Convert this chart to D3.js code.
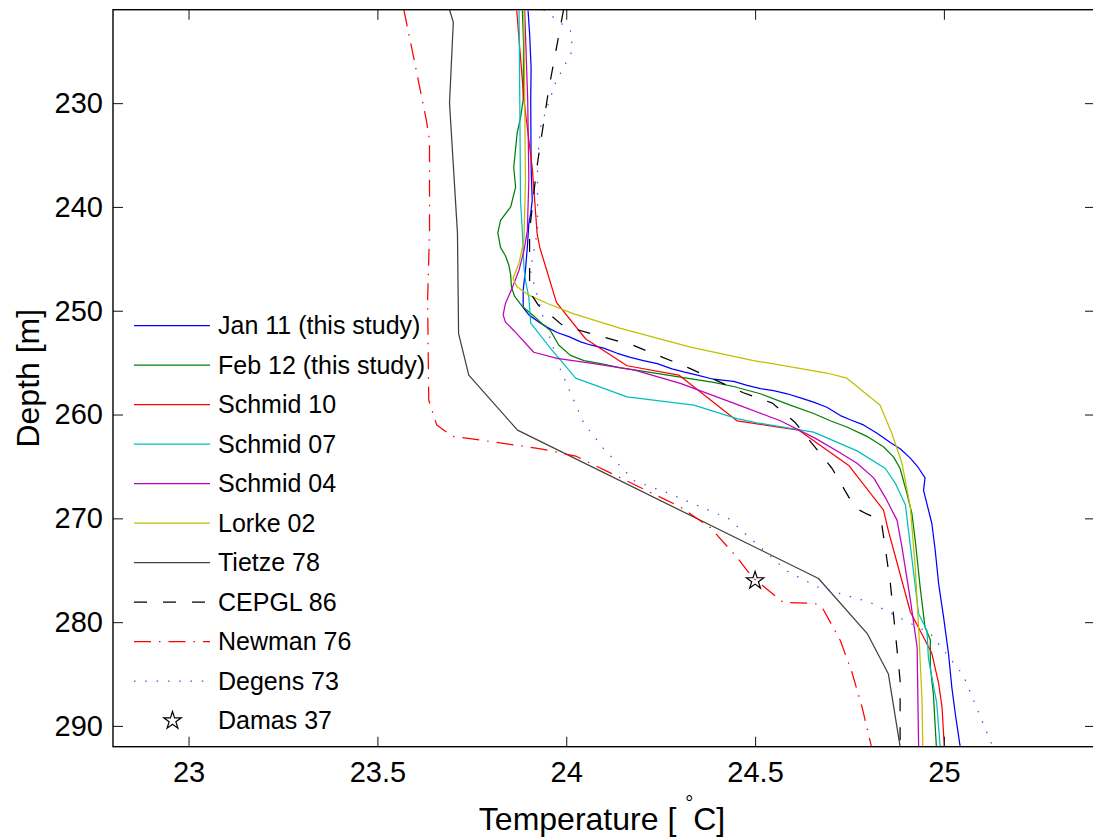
<!DOCTYPE html>
<html>
<head>
<meta charset="utf-8">
<script src="https://cdn.jsdelivr.net/npm/d3@7"></script>
<style>
  html, body { margin: 0; padding: 0; background: #fff; }
  svg { display: block; font-family: "Liberation Sans", Arial, Helvetica, sans-serif; }
</style>
</head>
<body>
<svg id="chart" width="1093" height="840"></svg>
<script>
// Temperature profiles, each point is [temperature °C, depth m]
const jan11 = [[23.899,221.1],[23.903,223.3],[23.907,226.6],[23.906,229.7],[23.907,236.2],[23.910,239.4],[23.906,240.6],[23.901,241.6],[23.897,243.9],[23.892,246.1],[23.886,248.0],[23.886,249.7],[23.901,250.4],[23.928,251.1],[23.950,251.6],[23.976,252.1],[24.007,252.5],[24.038,253.0],[24.064,253.3],[24.099,253.6],[24.135,254.1],[24.170,254.5],[24.204,254.8],[24.241,255.1],[24.280,255.6],[24.311,255.9],[24.347,256.2],[24.390,256.6],[24.443,256.8],[24.479,257.2],[24.514,257.5],[24.549,257.7],[24.585,258.0],[24.620,258.4],[24.655,258.8],[24.690,259.3],[24.726,260.1],[24.752,260.5],[24.787,261.0],[24.823,261.8],[24.858,262.7],[24.884,263.3],[24.911,264.2],[24.932,265.1],[24.950,266.1],[24.946,267.3],[24.955,268.6],[24.968,270.5],[24.977,273.1],[24.986,276.3],[24.999,279.5],[25.012,283.0],[25.021,286.3],[25.030,288.8],[25.043,292.0]];
const feb12 = [[23.884,221.1],[23.887,224.3],[23.886,229.7],[23.879,231.4],[23.870,232.9],[23.861,236.2],[23.866,238.1],[23.853,240.0],[23.826,241.3],[23.819,242.5],[23.826,243.9],[23.839,244.7],[23.848,245.6],[23.853,246.6],[23.855,247.7],[23.863,248.6],[23.884,249.6],[23.914,250.5],[23.937,251.3],[23.958,251.9],[23.980,253.3],[24.011,254.3],[24.047,254.8],[24.091,255.1],[24.144,255.5],[24.214,255.9],[24.302,256.4],[24.390,256.9],[24.443,257.3],[24.514,258.0],[24.593,259.1],[24.655,259.9],[24.699,260.6],[24.743,261.2],[24.796,262.1],[24.840,263.1],[24.867,264.1],[24.884,265.2],[24.902,267.6],[24.915,269.5],[24.924,272.1],[24.937,276.6],[24.950,280.5],[24.964,281.7],[24.964,284.3],[24.972,286.9],[24.980,292.0]];
const schmid10 = [[23.869,221.1],[23.888,229.7],[23.910,236.2],[23.923,242.6],[23.930,243.9],[23.974,249.2],[24.051,252.7],[24.161,255.3],[24.298,256.2],[24.452,260.6],[24.615,261.5],[24.748,264.9],[24.840,269.2],[24.853,271.2],[24.911,279.0],[24.968,283.0],[24.986,285.9],[24.995,288.2],[25.001,292.0]];
const schmid07 = [[23.875,221.1],[23.877,229.7],[23.879,239.4],[23.884,242.5],[23.888,245.8],[23.892,247.1],[23.901,248.7],[23.906,251.2],[23.958,253.6],[24.025,256.5],[24.161,258.3],[24.338,259.1],[24.452,260.4],[24.505,260.8],[24.655,261.7],[24.770,263.5],[24.845,265.2],[24.871,266.6],[24.898,268.7],[24.933,279.2],[24.955,280.8],[24.959,283.5],[24.981,287.8],[24.990,292.0]];
const schmid04 = [[23.890,221.1],[23.898,229.7],[23.901,237.4],[23.897,242.3],[23.888,244.2],[23.875,246.1],[23.857,247.8],[23.839,249.3],[23.833,250.4],[23.839,251.1],[23.861,251.9],[23.914,254.0],[23.976,254.6],[24.073,255.1],[24.179,255.7],[24.302,257.0],[24.443,258.9],[24.567,260.6],[24.660,262.3],[24.726,263.7],[24.770,264.7],[24.814,266.1],[24.845,268.0],[24.876,270.2],[24.889,272.8],[24.911,277.8],[24.929,282.4],[24.933,292.0]];
const lorke02 = [[23.888,221.1],[23.892,237.4],[23.888,243.2],[23.875,245.4],[23.859,246.9],[23.870,247.7],[23.901,248.5],[23.950,249.3],[24.020,250.3],[24.144,251.7],[24.329,253.5],[24.496,254.8],[24.690,256.0],[24.743,256.5],[24.831,259.1],[24.862,261.8],[24.889,264.7],[24.911,268.9],[24.924,274.7],[24.933,280.5],[24.942,287.5],[24.944,292.0]];
const tietze78 = [[23.691,221.0],[23.701,222.2],[23.691,230.0],[23.712,242.5],[23.715,252.2],[23.742,256.2],[23.871,261.5],[24.668,275.8],[24.797,281.1],[24.853,285.0],[24.884,292.0]];
const cepgl86 = [[23.993,221.0],[23.953,228.8],[23.921,236.5],[23.903,242.3],[23.903,248.2],[23.927,249.5],[23.958,250.4],[23.990,251.4],[24.064,252.2],[24.175,253.3],[24.324,255.5],[24.469,257.9],[24.546,258.9],[24.607,260.8],[24.704,265.2],[24.765,269.0],[24.797,269.6],[24.834,270.2],[24.858,276.2],[24.884,285.6],[24.884,292.0]];
const newman76 = [[23.570,221.0],[23.596,225.6],[23.630,231.7],[23.638,233.6],[23.638,242.3],[23.633,249.0],[23.636,258.6],[23.657,261.0],[23.699,262.1],[23.800,262.6],[23.932,263.3],[24.025,264.0],[24.302,268.9],[24.382,270.9],[24.453,273.8],[24.493,275.7],[24.575,278.1],[24.659,278.2],[24.678,278.6],[24.726,281.8],[24.757,284.9],[24.784,288.3],[24.808,292.0]];
const degens73 = [[23.940,221.0],[24.011,223.0],[24.017,224.9],[23.972,228.0],[23.932,232.3],[23.924,235.5],[23.924,242.3],[23.905,246.1],[23.937,250.4],[23.985,255.7],[24.046,260.8],[24.099,263.3],[24.181,266.4],[24.265,267.5],[24.429,270.0],[24.496,272.2],[24.585,275.1],[24.665,276.6],[24.805,278.1],[24.884,279.6],[24.964,281.1],[25.051,285.1],[25.120,291.2],[25.130,292.0]];
const damas37 = [[24.5,276.0]];

const seriesNames = ["Jan 11 (this study)","Feb 12 (this study)","Schmid 10","Schmid 07","Schmid 04","Lorke 02","Tietze 78","CEPGL 86","Newman 76","Degens 73","Damas 37"];
const tempTicks = [23, 23.5, 24, 24.5, 25];
const depthTicks = [230, 240, 250, 260, 270, 280, 290];
const tempDomain = [22.8, 25.4];
const depthDomain = [221, 292];

// Line appearance for each profile
const lineStyles = [
  {data: jan11,    color: "#0000ff", dash: null},
  {data: feb12,    color: "#008000", dash: null},
  {data: schmid10, color: "#ff0000", dash: null},
  {data: schmid07, color: "#00bfbf", dash: null},
  {data: schmid04, color: "#bf00bf", dash: null},
  {data: lorke02,  color: "#bfbf00", dash: null},
  {data: tietze78, color: "#404040", dash: null},
  {data: cepgl86,  color: "#000000", dash: "13,16"},
  {data: newman76, color: "#ff0000", dash: "17,8,1.5,8"},
  {data: degens73, color: "#4a4aff", dash: "1.5,9.8"}
];

const svg = d3.select("#chart");
const plot = {left: 113, right: 1095, top: 9.7, bottom: 746.7};

const x = d3.scaleLinear().domain(tempDomain).range([plot.left, plot.right]);
const y = d3.scaleLinear().domain(depthDomain).range([plot.top, plot.bottom]);

svg.append("defs").append("clipPath").attr("id", "plotClip")
  .append("rect")
  .attr("x", plot.left).attr("y", plot.top)
  .attr("width", plot.right - plot.left).attr("height", plot.bottom - plot.top);

const line = d3.line().x(d => x(d[0])).y(d => y(d[1]));

const lines = svg.append("g").attr("clip-path", "url(#plotClip)");
lineStyles.forEach(s => {
  lines.append("path")
    .datum(s.data)
    .attr("d", line)
    .attr("fill", "none")
    .attr("stroke", s.color)
    .attr("stroke-width", 1.25)
    .attr("stroke-linejoin", "round")
    .attr("stroke-dasharray", s.dash);
});

const star = d3.symbol().type(d3.symbolStar).size(95);
lines.selectAll(".damas").data(damas37).join("path")
  .attr("class", "damas")
  .attr("transform", d => `translate(${x(d[0])},${y(d[1])})`)
  .attr("d", star)
  .attr("fill", "none")
  .attr("stroke", "#000")
  .attr("stroke-width", 1.2);

// Axes with inward ticks on all four sides
const tickFont = 29;
function styleAxis(g) {
  g.select(".domain").remove();
  g.selectAll(".tick line").attr("stroke", "#262626").attr("stroke-width", 1.1);
  g.selectAll(".tick text").attr("fill", "#000").attr("font-size", tickFont)
    .attr("font-family", "'Liberation Sans', Arial, Helvetica, sans-serif");
}
svg.append("g").attr("transform", `translate(0,${plot.bottom})`)
  .call(d3.axisBottom(x).tickValues(tempTicks).tickFormat(d3.format("~g")).tickSizeInner(-10).tickSizeOuter(0).tickPadding(15))
  .call(styleAxis);
svg.append("g").attr("transform", `translate(0,${plot.top})`)
  .call(d3.axisTop(x).tickValues(tempTicks).tickFormat("").tickSizeInner(-10).tickSizeOuter(0))
  .call(styleAxis);
svg.append("g").attr("transform", `translate(${plot.left},0)`)
  .call(d3.axisLeft(y).tickValues(depthTicks).tickFormat(d3.format("d")).tickSizeInner(-10).tickSizeOuter(0).tickPadding(10))
  .call(styleAxis);
svg.append("g").attr("transform", `translate(${plot.right},0)`)
  .call(d3.axisRight(y).tickValues(depthTicks).tickFormat("").tickSizeInner(-10).tickSizeOuter(0))
  .call(styleAxis);

svg.append("rect")
  .attr("x", plot.left).attr("y", plot.top)
  .attr("width", plot.right - plot.left).attr("height", plot.bottom - plot.top)
  .attr("fill", "none").attr("stroke", "#000").attr("stroke-width", 1.4);

// Axis titles
const xTitle = svg.append("text")
  .attr("x", 602).attr("y", 830)
  .attr("text-anchor", "middle")
  .attr("font-size", 32).attr("fill", "#000");
xTitle.append("tspan").text("Temperature [ ");
xTitle.append("tspan").attr("font-size", 20).attr("dy", -20).text("\u00B0");
xTitle.append("tspan").attr("dy", 20).text("C]");

svg.append("text")
  .attr("transform", `translate(39,${(plot.top + plot.bottom) / 2}) rotate(-90)`)
  .attr("text-anchor", "middle")
  .attr("font-size", 32).attr("fill", "#000")
  .text("Depth [m]");

// Legend
const legend = svg.append("g");
const legendTop = 325.7, legendStep = 39.5;
const legendItems = seriesNames.map((name, i) => ({name, i}));
legendItems.forEach(({name, i}) => {
  const ly = legendTop + i * legendStep;
  if (i < lineStyles.length) {
    const s = lineStyles[i];
    legend.append("line")
      .attr("x1", 134).attr("x2", 210).attr("y1", ly).attr("y2", ly)
      .attr("stroke", s.color).attr("stroke-width", 1.25)
      .attr("stroke-dasharray", s.dash);
  } else {
    legend.append("path")
      .attr("transform", `translate(172.5,${ly})`)
      .attr("d", star)
      .attr("fill", "none").attr("stroke", "#000").attr("stroke-width", 1.2);
  }
  legend.append("text")
    .attr("x", 218).attr("y", ly).attr("dy", "0.35em")
    .attr("font-size", 25).attr("fill", "#000")
    .text(name);
});
</script>
</body>
</html>
